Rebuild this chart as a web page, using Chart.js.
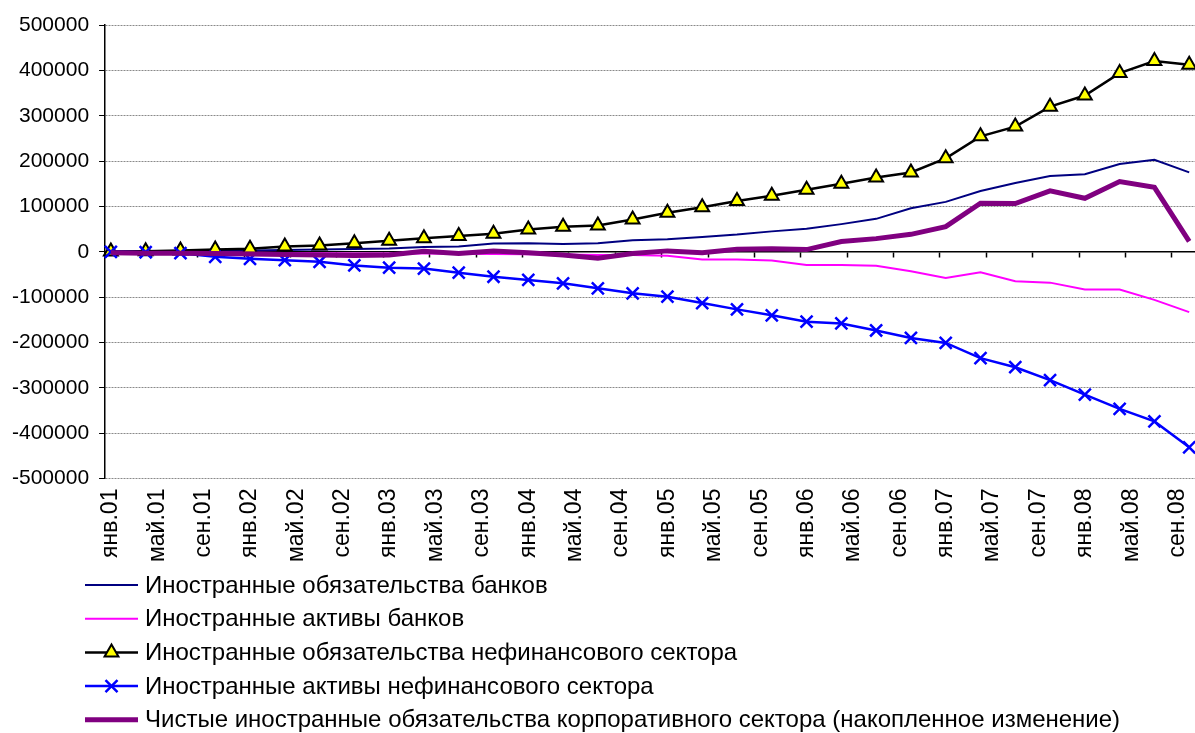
<!DOCTYPE html>
<html>
<head>
<meta charset="utf-8">
<script src="https://cdn.jsdelivr.net/npm/chart.js@4.4.1/dist/chart.umd.min.js"></script>
<style>
  html, body { margin: 0; padding: 0; background: #fff; }
  #wrap { width: 1195px; height: 733px; position: relative; }
</style>
</head>
<body>
<div id="wrap"><canvas id="c"></canvas></div>
<script>
// Monthly category axis: янв.01 … окт.08
const monthNames = ['янв', 'фев', 'мар', 'апр', 'май', 'июн', 'июл', 'авг', 'сен', 'окт', 'ноя', 'дек'];
const years = ['01', '02', '03', '04', '05', '06', '07', '08'];
const months = [];
years.forEach(y => monthNames.forEach(m => months.push(m + '.' + y)));
months.length = 94;

// Observations are quarterly (янв, апр, июл, окт)
const quarters = months.filter((_, i) => i % 3 === 0);

// Accumulated change, quarterly
const bankLiab = [0, 1000, 1500, 2000, 3000, 4000, 5000, 6000, 7000, 10700, 11400, 18000, 18800, 17400, 18800, 25400,
  27700, 32800, 38000, 45000, 51000, 61000, 72600, 96000, 110000, 134000, 151500, 167000, 171000, 193500, 203000, 175000];
const bankAssets = [0, -500, -1000, -1500, -2000, -2500, -3000, -3500, -4000, -4000, -4500, -5000, -5500, -6000, -7000, -7000,
  -9000, -17000, -17000, -19000, -29000, -29000, -31000, -43000, -58000, -45000, -65000, -68000, -83000, -83000, -106000, -133000];
const nonfinLiab = [500, 1200, 2600, 4800, 6700, 11800, 14000, 19000, 24500, 30000, 35000, 40000, 49000, 55000, 58000, 71000,
  86000, 98000, 112000, 123500, 137000, 150000, 164000, 175000, 206000, 254500, 276000, 320000, 344500, 394000, 420500, 412500];
const nonfinAssets = [0, -1000, -3000, -11000, -15500, -18500, -22000, -30000, -35000, -37000, -46000, -55000, -62000, -69500, -80500, -91500,
  -99000, -113000, -127000, -140000, -154000, -158000, -173500, -190000, -201000, -234500, -254500, -283000, -315000, -346500, -374000, -431000];
const netCorp = [-2000, -3000, -3000, -4000, -5000, -6000, -7000, -8000, -7000, 1000, -3500, 1500, -2000, -7000, -14000, -4000,
  2000, -2000, 5500, 6500, 4800, 22500, 29000, 38500, 55500, 107000, 106500, 134500, 118000, 155000, 142000, 23000];

const seriesNames = [
  'Иностранные обязательства банков',
  'Иностранные активы банков',
  'Иностранные обязательства нефинансового сектора',
  'Иностранные активы нефинансового сектора',
  'Чистые иностранные обязательства корпоративного сектора (накопленное изменение)'
];

const FONT = "'Liberation Sans', Arial, sans-serif";
const toPoints = vals => vals.map((v, i) => ({ x: quarters[i], y: v }));

// Vertical legend list under the axis labels
const legendBox = { x: 85, len: 53, textX: 145, y0: 585, dy: 33.7, size: 24 };
const stackedLegend = {
  id: 'stackedLegend',
  afterDraw(chart) {
    const ctx = chart.ctx;
    ctx.save();
    ctx.font = legendBox.size + 'px ' + FONT;
    ctx.textBaseline = 'middle';
    chart.data.datasets.forEach((ds, i) => {
      const y = legendBox.y0 + i * legendBox.dy;
      ctx.setLineDash([]);
      ctx.strokeStyle = ds.borderColor;
      ctx.lineWidth = ds.borderWidth;
      ctx.beginPath();
      ctx.moveTo(legendBox.x, y);
      ctx.lineTo(legendBox.x + legendBox.len, y);
      ctx.stroke();
      if (ds.pointRadius) {
        ctx.fillStyle = ds.pointBackgroundColor;
        ctx.strokeStyle = ds.pointBorderColor;
        ctx.lineWidth = ds.pointBorderWidth;
        Chart.helpers.drawPoint(ctx, {
          pointStyle: ds.pointStyle, radius: ds.pointRadius,
          borderWidth: ds.pointBorderWidth, rotation: 0
        }, legendBox.x + legendBox.len / 2, y);
      }
      ctx.fillStyle = '#000';
      ctx.fillText(ds.label, legendBox.textX, y + 1);
    });
    ctx.restore();
  }
};

// the category axes should not reserve side room for their labels
const noSidePadding = scale => { scale.paddingLeft = 0; scale.paddingRight = 0; };

new Chart(document.getElementById('c'), {
  type: 'line',
  data: {
    labels: months,
    datasets: [
      { label: seriesNames[0], data: toPoints(bankLiab), borderColor: '#000080', borderWidth: 2,
        pointRadius: 0, order: 4 },
      { label: seriesNames[1], data: toPoints(bankAssets), borderColor: '#FF00FF', borderWidth: 2,
        pointRadius: 0, order: 3 },
      { label: seriesNames[2], data: toPoints(nonfinLiab), borderColor: '#000000', borderWidth: 2.5,
        pointStyle: 'triangle', pointRadius: 8, pointBorderWidth: 2,
        pointBackgroundColor: '#FFFF00', pointBorderColor: '#000000', order: 2 },
      { label: seriesNames[3], data: toPoints(nonfinAssets), borderColor: '#0000FF', borderWidth: 2.5,
        pointStyle: 'crossRot', pointRadius: 8.5, pointBorderWidth: 2.5,
        pointBackgroundColor: '#0000FF', pointBorderColor: '#0000FF', order: 1 },
      { label: seriesNames[4], data: toPoints(netCorp), borderColor: '#800080', borderWidth: 5,
        pointRadius: 0, order: 0 }
    ]
  },
  options: {
    responsive: true,
    maintainAspectRatio: false,
    animation: false,
    events: [],
    layout: { autoPadding: false, padding: { left: 2, top: 25, right: 0, bottom: 161 } },
    plugins: { legend: { display: false }, tooltip: { enabled: false } },
    scales: {
      x: {
        type: 'category',
        offset: true,
        afterFit: noSidePadding,
        grid: { display: false, drawTicks: false },
        border: { display: false },
        ticks: {
          autoSkip: false, minRotation: 90, maxRotation: 90, padding: 10,
          color: '#000', font: { family: FONT, size: 23 },
          callback: (v, i) => (i % 4 === 0 ? months[i] : '')
        }
      },
      x0: {
        type: 'category',
        position: { y: 0 },
        offset: true,
        afterFit: noSidePadding,
        grid: {
          offset: true, drawOnChartArea: false, tickLength: 5, tickWidth: 1.5,
          tickColor: c => (c.index % 4 === 0 ? '#000' : 'rgba(0,0,0,0)')
        },
        ticks: { display: false },
        border: { display: true, color: '#000', width: 1.5 }
      },
      y: {
        min: -500000, max: 500000,
        ticks: {
          stepSize: 100000, padding: 10, color: '#000',
          font: { family: FONT, size: 21 },
          callback: v => String(v)
        },
        grid: { color: '#8a8a8a', lineWidth: 1, tickColor: '#000', tickLength: 6 },
        border: { display: true, color: '#000', width: 1.5, dash: [2, 1] }
      }
    }
  },
  plugins: [stackedLegend]
});
</script>
</body>
</html>
